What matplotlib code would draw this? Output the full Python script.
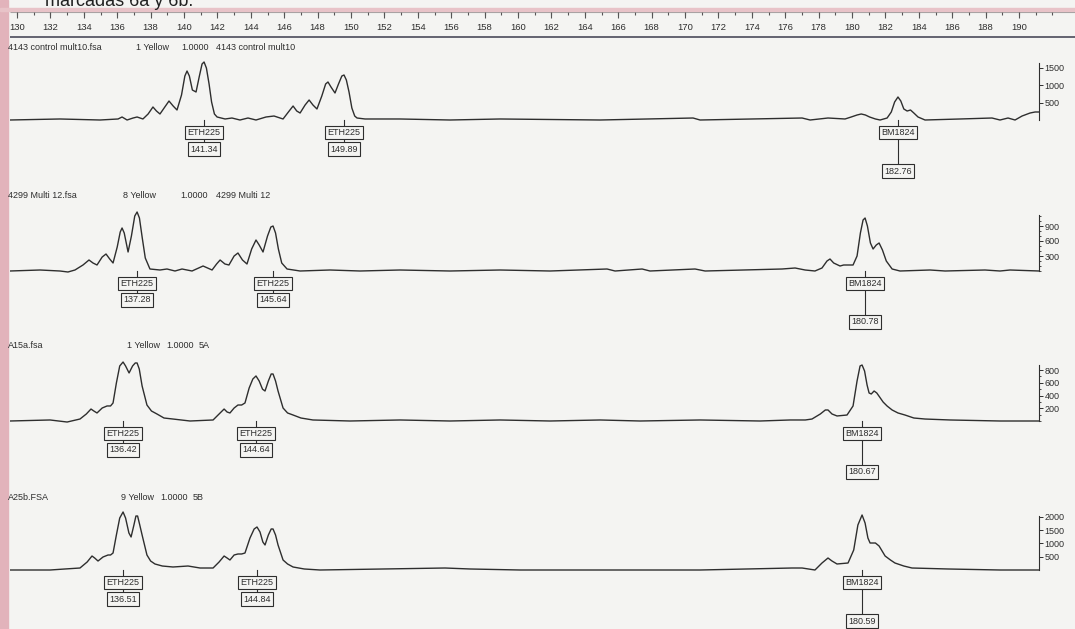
import matplotlib
matplotlib.use("Agg")
import matplotlib.pyplot as plt
from matplotlib.patches import Rectangle
from matplotlib.ticker import FixedLocator

plt.rcParams['font.family'] = ['Liberation Sans', 'DejaVu Sans']

W, H = 1075, 629
BG = '#f4f4f2'
INK = '#2e2e2e'

# ruler (size in bp)
ruler_major = list(range(130, 192, 2))
ruler_minor = list(range(130, 193, 1))

# header line of each sample
titles = [
    ["4143 control mult10.fsa", "1 Yellow", "1.0000", "4143 control mult10"],
    ["4299 Multi 12.fsa", "8 Yellow", "1.0000", "4299 Multi 12"],
    ["A15a.fsa", "1 Yellow", "1.0000", "5A"],
    ["A25b.FSA", "9 Yellow", "1.0000", "5B"],
]

# traces: size (bp) and signal (RFU)
p1_size = [129.58, 132.57, 134.97, 136.05, 136.29, 136.59, 136.95, 137.19, 137.54, 137.85,
           138.14, 138.35, 138.56, 138.85, 139.10, 139.35, 139.58, 139.85, 140.05, 140.18,
           140.32, 140.50, 140.72, 140.92, 141.08, 141.20, 141.34, 141.50, 141.65, 141.82,
           141.98, 142.46, 142.87, 143.35, 143.83, 144.31, 144.91, 145.39, 145.93, 146.25,
           146.53, 146.75, 146.95, 147.25, 147.49, 147.72, 147.96, 148.25, 148.48, 148.62,
           148.80, 149.04, 149.25, 149.45, 149.58, 149.72, 149.88, 150.05, 150.22, 150.36,
           150.84, 152.93, 155.93, 158.92, 164.91, 170.48, 170.90, 177.01, 177.49, 178.56,
           179.58, 179.95, 180.30, 180.55, 180.80, 181.05, 181.40, 181.68, 182.10, 182.35,
           182.55, 182.75, 182.92, 183.10, 183.30, 183.50, 183.70, 183.95, 184.37, 186.47,
           188.38, 188.86, 189.34, 189.76, 190.18, 190.66, 190.96, 191.20]
p1_rfu = [0, 29, 0, 29, 86, 0, 57, 86, 29, 172,
          372, 257, 172, 372, 543, 400, 286, 715, 1258, 1401,
          1258, 858, 801, 1258, 1602, 1659, 1487, 1030, 515, 172,
          86, 29, 57, 0, 57, 0, 86, 114, 29, 229,
          400, 257, 200, 429, 572, 429, 315, 686, 1030, 1087,
          944, 772, 1030, 1258, 1287, 1144, 801, 343, 114, 57,
          29, 29, 0, 29, 0, 57, 0, 57, 0, 57,
          29, 86, 143, 172, 143, 86, 29, 0, 57, 229,
          515, 658, 543, 315, 257, 286, 200, 86, 0, 29,
          57, 0, 57, 0, 114, 200, 229, 229]

p2_size = [129.58, 131.38, 132.57, 133.05, 133.47, 133.95, 134.31, 134.55, 134.79, 135.10,
           135.33, 135.55, 135.75, 136.00, 136.18, 136.29, 136.42, 136.65, 136.85, 137.05,
           137.19, 137.33, 137.50, 137.68, 137.96, 138.56, 138.98, 139.46, 139.88, 140.48,
           141.14, 141.68, 141.95, 142.16, 142.45, 142.69, 143.00, 143.23, 143.50, 143.77,
           144.05, 144.31, 144.50, 144.73, 145.00, 145.20, 145.33, 145.48, 145.65, 145.85,
           146.17, 146.95, 148.74, 150.54, 152.93, 155.93, 158.92, 161.92, 165.33, 165.81,
           167.43, 167.90, 170.60, 171.20, 175.81, 176.59, 177.19, 177.78, 178.20, 178.50,
           178.68, 178.90, 179.28, 179.50, 179.70, 180.06, 180.30, 180.50, 180.66, 180.78,
           180.92, 181.10, 181.26, 181.45, 181.62, 181.82, 182.05, 182.40, 182.87, 184.67,
           185.57, 187.96, 188.86, 189.46, 191.20]
p2_rfu = [0, 20, 0, -20, 20, 120, 220, 160, 120, 280,
          340, 240, 160, 480, 780, 860, 760, 380, 700, 1100,
          1180, 1060, 660, 260, 40, 20, 40, 0, 40, 0,
          100, 20, 140, 220, 140, 120, 300, 360, 220, 140,
          440, 620, 520, 380, 700, 880, 900, 760, 440, 160,
          40, 0, 20, 0, 20, 0, 20, 0, 40, 0,
          40, 0, 40, 0, 40, 60, 20, 0, 60, 200,
          240, 160, 100, 120, 120, 120, 300, 760, 1020, 1060,
          900, 560, 440, 520, 560, 420, 200, 40, 0, 20,
          0, 20, 0, 20, 0]

p3_size = [129.58, 131.98, 133.00, 133.77, 134.15, 134.43, 134.60, 134.79, 135.10, 135.39,
           135.60, 135.75, 135.95, 136.15, 136.35, 136.50, 136.71, 136.92, 137.08, 137.19,
           137.32, 137.49, 137.78, 138.05, 138.38, 138.80, 139.34, 140.36, 141.74, 142.10,
           142.40, 142.58, 142.75, 143.00, 143.23, 143.45, 143.65, 143.90, 144.12, 144.31,
           144.50, 144.70, 144.85, 145.05, 145.22, 145.33, 145.48, 145.63, 145.93, 146.20,
           146.53, 147.00, 147.72, 149.94, 152.93, 155.93, 158.92, 161.92, 164.91, 167.31,
           170.90, 174.49, 176.29, 177.20, 177.60, 178.10, 178.40, 178.56, 178.80, 179.10,
           179.70, 180.06, 180.30, 180.48, 180.60, 180.75, 180.90, 181.02, 181.15, 181.32,
           181.48, 181.65, 181.86, 182.10, 182.40, 182.75, 183.17, 183.70, 184.37, 185.87,
           188.86, 191.20]
p3_rfu = [0, 16, -16, 31, 110, 188, 157, 126, 204, 236,
          236, 283, 597, 864, 926, 864, 754, 864, 911, 911,
          816, 550, 251, 157, 110, 47, 31, 0, 16, 110,
          188, 141, 126, 204, 251, 251, 283, 518, 659, 707,
          628, 500, 471, 628, 738, 738, 628, 471, 204, 126,
          94, 47, 16, 0, 16, 0, 16, 0, 16, 0,
          16, 0, 16, 16, 31, 110, 173, 173, 110, 79,
          94, 236, 628, 864, 879, 785, 565, 440, 424, 471,
          440, 377, 298, 235, 173, 126, 94, 47, 31, 16,
          0, 0]

p4_size = [129.58, 131.98, 132.87, 133.77, 134.20, 134.49, 134.65, 134.85, 135.15, 135.45,
           135.60, 135.75, 135.95, 136.15, 136.35, 136.50, 136.70, 136.83, 137.00, 137.12,
           137.22, 137.35, 137.49, 137.78, 138.00, 138.26, 138.70, 139.34, 140.24, 140.96,
           141.74, 142.10, 142.40, 142.58, 142.75, 143.00, 143.23, 143.45, 143.65, 143.95,
           144.20, 144.37, 144.55, 144.72, 144.85, 145.05, 145.22, 145.33, 145.48, 145.63,
           145.93, 146.20, 146.53, 147.20, 148.14, 155.63, 157.13, 160.12, 170.90, 176.41,
           177.01, 177.78, 178.20, 178.56, 178.80, 179.10, 179.76, 180.10, 180.35, 180.60,
           180.78, 180.95, 181.08, 181.25, 181.40, 181.62, 181.98, 182.30, 182.57, 183.10,
           183.59, 185.75, 188.86, 191.20]
p4_rfu = [0, 0, 38, 75, 301, 526, 451, 338, 489, 564,
          564, 639, 1316, 1955, 2181, 1955, 1392, 1241, 1692, 2030,
          2030, 1692, 1316, 564, 338, 226, 150, 113, 150, 75,
          75, 301, 526, 451, 376, 564, 602, 602, 639, 1203,
          1542, 1617, 1429, 1053, 940, 1316, 1542, 1542, 1316, 940,
          376, 226, 113, 38, 0, 75, 38, 0, 0, 75,
          75, 0, 263, 451, 338, 226, 263, 752, 1692, 2068,
          1767, 1203, 1015, 1015, 1015, 902, 526, 376, 263, 150,
          75, 38, 0, 0]

# allele calls: marker name, peak position, called size
markers = ["ETH225", "ETH225", "BM1824"]
p1_call_pos = [141.20, 149.58, 182.75]
p1_called = ["141.34", "149.89", "182.76"]
p2_call_pos = [137.19, 145.33, 180.78]
p2_called = ["137.28", "145.64", "180.78"]
p3_call_pos = [136.35, 144.31, 180.60]
p3_called = ["136.42", "144.64", "180.67"]
p4_call_pos = [136.35, 144.37, 180.60]
p4_called = ["136.51", "144.84", "180.59"]

# right axis ticks (RFU)
p1_ticks = [500, 1000, 1500]
p2_ticks = [300, 600, 900]
p3_ticks = [200, 400, 600, 800]
p4_ticks = [500, 1000, 1500, 2000]

panels = [
    (p1_size, p1_rfu, p1_call_pos, p1_called, p1_ticks),
    (p2_size, p2_rfu, p2_call_pos, p2_called, p2_ticks),
    (p3_size, p3_rfu, p3_call_pos, p3_called, p3_ticks),
    (p4_size, p4_rfu, p4_call_pos, p4_called, p4_ticks),
]

# layout in pixels: top, bottom, baseline, rfu per pixel, axis top, minor step
layout = [
    (40, 186, 120, 28.6, 1630, None),
    (188, 336, 271, 20.0, 1120, 100),
    (337, 486, 421, 15.7, 880, 100),
    (488, 629, 570, 37.6, 2030, None),
]
title_x = [[8, 136, 181, 216], [8, 123, 180, 216], [8, 127, 166, 199], [8, 121, 160, 193]]
title_y = [48, 196, 345, 497]

XL = (129.58, 193.35)
AXIS_X = 191.2


def box(top, bottom):
    return [10 / W, 1 - bottom / H, 1065 / W, (bottom - top) / H]


fig = plt.figure(figsize=(W / 100, H / 100), dpi=100)
fig.patch.set_facecolor(BG)

# pink scan border
fig.patches.append(Rectangle((0, 0), 8 / W, 1, transform=fig.transFigure,
                             color='#e2b3bb', zorder=0))
fig.patches.append(Rectangle((0, 1 - 11 / H), 1, 3 / H, transform=fig.transFigure,
                             color='#e8c3c8', zorder=0))
# last line of the page text above, cut by the scan
fig.text(45 / W, 1 - 6 / H, "marcadas 6a y 6b.", fontsize=13, va='baseline',
         color='#222222')

# ruler
rax = fig.add_axes(box(8, 38))
rax.set_xlim(XL)
rax.set_ylim(38, 8)
rax.axis('off')
rax.hlines(12, XL[0], XL[1], color='#9a9a9a', lw=0.8)
rax.vlines(ruler_minor, 12, 15, color='#555555', lw=0.8)
rax.vlines(ruler_major, 12, 18, color='#555555', lw=0.8)
rax.hlines(36.5, XL[0], XL[1], color='#4a4a5a', lw=1.2)
for v in ruler_major:
    rax.text(v, 27.5, str(v), ha='center', va='center', fontsize=6.8, color=INK,
             clip_on=True)

for i, (size, rfu, cpos, called, ticks) in enumerate(panels):
    top, bottom, base, s, atop, minor = layout[i]
    ax = fig.add_axes(box(top, bottom))
    ax.set_facecolor('none')
    ax.set_xlim(XL)
    ax.set_ylim(-(bottom - base) * s, (base - top) * s)
    ax.plot(size, rfu, color=INK, lw=1.0)

    for sp in ['top', 'left', 'bottom']:
        ax.spines[sp].set_visible(False)
    ax.spines['right'].set_position(('data', AXIS_X))
    ax.spines['right'].set_bounds(0, atop)
    ax.spines['right'].set_color(INK)
    ax.spines['right'].set_linewidth(0.8)
    ax.set_xticks([])
    ax.yaxis.tick_right()
    ax.set_yticks(ticks)
    if minor:
        ax.yaxis.set_minor_locator(FixedLocator(list(range(0, atop, minor))))
    ax.tick_params(axis='y', which='major', direction='out', length=3, width=0.7,
                   labelsize=6.5, pad=1, colors=INK)
    ax.tick_params(axis='y', which='minor', direction='out', length=1.5, width=0.6,
                   colors=INK)

    for name, pos, txt in zip(markers, cpos, called):
        low = 51 if name == "BM1824" else 29
        ax.plot([pos, pos], [0, -low * s], color=INK, lw=0.8, zorder=2)
        ax.text(pos, -12.5 * s, name, ha='center', va='center', fontsize=6.5, color=INK,
                zorder=3, bbox=dict(boxstyle='square,pad=0.25', fc=BG, ec=INK, lw=0.8))
        ax.text(pos, -low * s, txt, ha='center', va='center', fontsize=6.5, color=INK,
                zorder=3, bbox=dict(boxstyle='square,pad=0.25', fc=BG, ec=INK, lw=0.8))

    for part, xp in zip(titles[i], title_x[i]):
        fig.text(xp / W, 1 - title_y[i] / H, part, fontsize=6.5, va='center', color=INK)

fig.savefig('out.png', dpi=100, facecolor=BG)
